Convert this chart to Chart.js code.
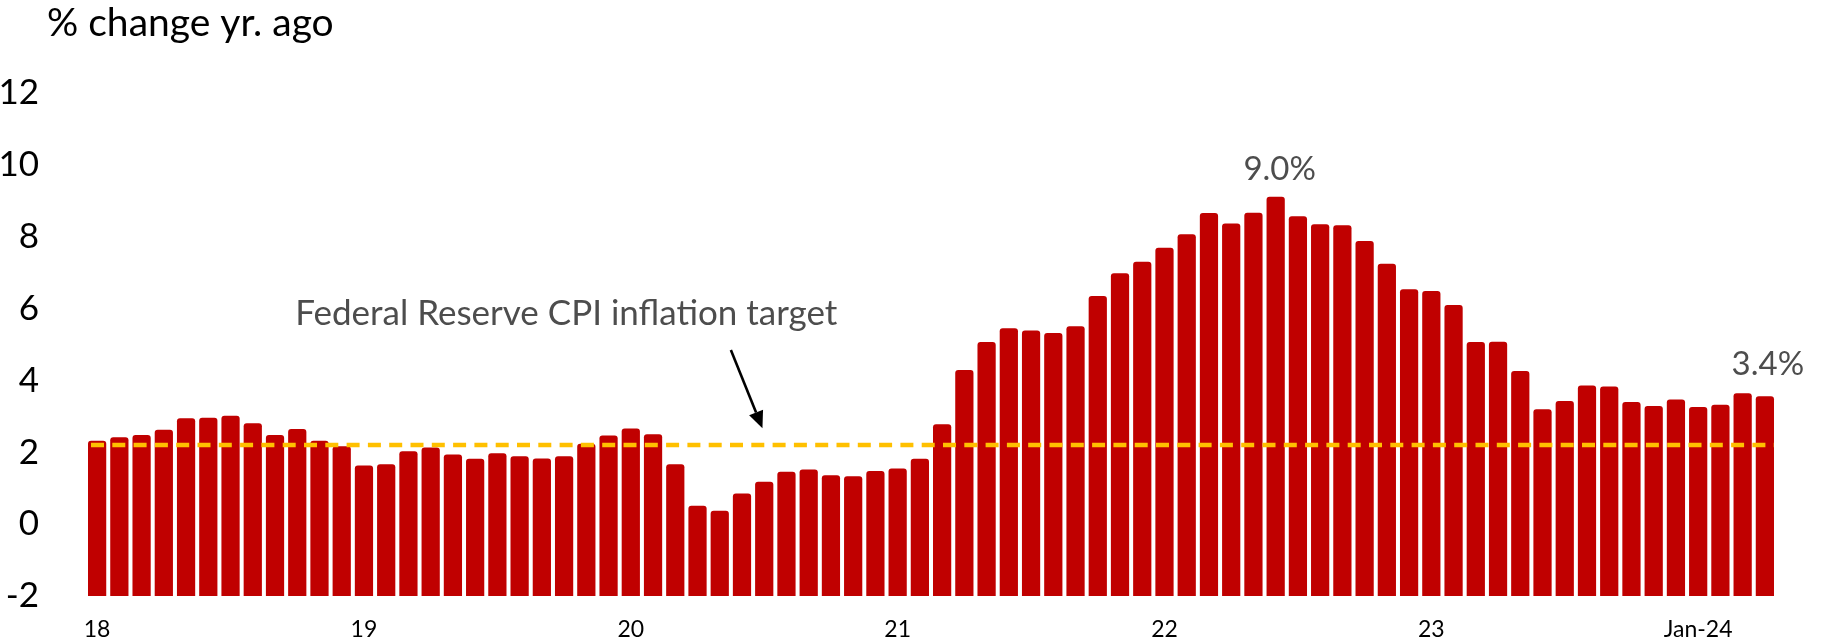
<!DOCTYPE html>
<html>
<head>
<meta charset="utf-8">
<title>CPI % change yr. ago</title>
<script src="https://cdn.jsdelivr.net/npm/chart.js@4.4.1/dist/chart.umd.min.js"></script>
<style>
    html, body { margin: 0; padding: 0; background: #fff; overflow: hidden; }
    #wrap { width: 1825px; height: 641px; }
    canvas { display: block; }
</style>
</head>
<body>
<div id="wrap"><canvas id="canvasCPI" width="1825" height="641"></canvas></div>
<script>
// monthly categories, Jan-18 .. Apr-24
const categories = [
    'Jan-18', 'Feb-18', 'Mar-18', 'Apr-18', 'May-18', 'Jun-18', 'Jul-18', 'Aug-18', 'Sep-18', 'Oct-18', 'Nov-18', 'Dec-18',
    'Jan-19', 'Feb-19', 'Mar-19', 'Apr-19', 'May-19', 'Jun-19', 'Jul-19', 'Aug-19', 'Sep-19', 'Oct-19', 'Nov-19', 'Dec-19',
    'Jan-20', 'Feb-20', 'Mar-20', 'Apr-20', 'May-20', 'Jun-20', 'Jul-20', 'Aug-20', 'Sep-20', 'Oct-20', 'Nov-20', 'Dec-20',
    'Jan-21', 'Feb-21', 'Mar-21', 'Apr-21', 'May-21', 'Jun-21', 'Jul-21', 'Aug-21', 'Sep-21', 'Oct-21', 'Nov-21', 'Dec-21',
    'Jan-22', 'Feb-22', 'Mar-22', 'Apr-22', 'May-22', 'Jun-22', 'Jul-22', 'Aug-22', 'Sep-22', 'Oct-22', 'Nov-22', 'Dec-22',
    'Jan-23', 'Feb-23', 'Mar-23', 'Apr-23', 'May-23', 'Jun-23', 'Jul-23', 'Aug-23', 'Sep-23', 'Oct-23', 'Nov-23', 'Dec-23',
    'Jan-24', 'Feb-24', 'Mar-24', 'Apr-24'
];

// CPI, % change yr. ago
const cpiYoY = [
    2.32, 2.42, 2.48, 2.63, 2.95, 2.96, 3.02, 2.81, 2.48, 2.65, 2.32, 2.17,
    1.63, 1.67, 2.03, 2.13, 1.94, 1.82, 1.97, 1.89, 1.83, 1.89, 2.24, 2.47,
    2.66, 2.50, 1.67, 0.51, 0.37, 0.85, 1.18, 1.46, 1.52, 1.36, 1.33, 1.48,
    1.55, 1.82, 2.78, 4.29, 5.07, 5.45, 5.39, 5.32, 5.51, 6.35, 6.98, 7.30,
    7.69, 8.07, 8.66, 8.37, 8.67, 9.11, 8.57, 8.35, 8.32, 7.88, 7.25, 6.54,
    6.49, 6.10, 5.07, 5.08, 4.26, 3.20, 3.43, 3.86, 3.83, 3.40, 3.29, 3.47,
    3.26, 3.32, 3.64, 3.56
];

const fedTarget = 2.2;

// x tick labels and the category they sit under
const tickIndex = [0, 12, 24, 36, 48, 60, 72];
const tickText = ['18', '19', '20', '21', '22', '23', 'Jan-24'];

const yMin = -2;
const yMax = 12;
const yStep = 2;

const peakLabel = '9.0%';
const lastLabel = '3.4%';

const annotations = {
    id: 'annotations',
    afterDatasetsDraw(chart) {
        const ctx = chart.ctx;
        const x = chart.scales.x;
        const y = chart.scales.y;
        const area = chart.chartArea;
        ctx.save();

        // dashed target line
        const yT = y.getPixelForValue(fedTarget);
        ctx.strokeStyle = '#FFC000';
        ctx.lineWidth = 4.5;
        ctx.setLineDash([13, 8.3]);
        ctx.beginPath();
        ctx.moveTo(area.left + 5, yT);
        ctx.lineTo(area.right - 2, yT);
        ctx.stroke();
        ctx.setLineDash([]);

        // arrow
        const x0 = x.getPixelForValue(28.5), y0 = y.getPixelForValue(4.85);
        const x1 = x.getPixelForValue(29.92), y1 = y.getPixelForValue(2.67);
        const ang = Math.atan2(y1 - y0, x1 - x0);
        const headLen = 17, headW = 7.5;
        const bx = x1 - headLen * Math.cos(ang), by = y1 - headLen * Math.sin(ang);
        ctx.strokeStyle = '#000';
        ctx.fillStyle = '#000';
        ctx.lineWidth = 2.6;
        ctx.beginPath();
        ctx.moveTo(x0, y0);
        ctx.lineTo(bx, by);
        ctx.stroke();
        ctx.beginPath();
        ctx.moveTo(x1, y1);
        ctx.lineTo(bx + headW * Math.sin(ang), by - headW * Math.cos(ang));
        ctx.lineTo(bx - headW * Math.sin(ang), by + headW * Math.cos(ang));
        ctx.closePath();
        ctx.fill();

        // texts
        ctx.textBaseline = 'alphabetic';
        ctx.fillStyle = '#000';
        ctx.textAlign = 'left';
        ctx.font = '39px Lato';
        ctx.fillText('% change yr. ago', 47, 36);

        ctx.fillStyle = '#4D4D4D';
        ctx.textAlign = 'center';
        ctx.font = '35px Lato';
        ctx.fillText('Federal Reserve CPI inflation target', x.getPixelForValue(21.1), y.getPixelForValue(5.55));

        const meta = chart.getDatasetMeta(0);
        const iPeak = cpiYoY.indexOf(Math.max(...cpiYoY));
        const iLast = cpiYoY.length - 1;
        ctx.font = '33px Lato';
        ctx.fillText(peakLabel, meta.data[iPeak].x + 4, meta.data[iPeak].y - 17);
        ctx.fillText(lastLabel, meta.data[iLast].x + 3, meta.data[iLast].y - 21);

        ctx.restore();
    }
};

const data = {
    labels: categories,
    datasets: [
        {
            label: 'CPI',
            data: cpiYoY,
            backgroundColor: '#C00000',
            base: yMin,
            barPercentage: 0.82,
            categoryPercentage: 1.0,
            borderRadius: { topLeft: 3, topRight: 3, bottomLeft: 0, bottomRight: 0 }
        }
    ]
};

const config = {
    type: 'bar',
    data: data,
    options: {
        responsive: false,
        animation: false,
        devicePixelRatio: 1,
        layout: { padding: { top: 93, right: 49, bottom: 0, left: 0 } },
        plugins: {
            legend: { display: false },
            tooltip: { enabled: false }
        },
        scales: {
            x: {
                offset: true,
                grid: { display: false },
                border: { display: false },
                ticks: {
                    autoSkip: false,
                    maxRotation: 0,
                    minRotation: 0,
                    padding: 12,
                    color: '#000',
                    font: { family: 'Lato', size: 23 },
                    callback: function (val, i) {
                        const k = tickIndex.indexOf(i);
                        return k >= 0 ? tickText[k] : '';
                    }
                },
                afterFit: function (s) { s.height = 45; s.paddingLeft = 0; s.paddingRight = 0; }
            },
            y: {
                min: yMin,
                max: yMax,
                grid: { display: false },
                border: { display: false },
                ticks: {
                    stepSize: yStep,
                    padding: 39,
                    color: '#000',
                    font: { family: 'Lato', size: 35 }
                },
                afterFit: function (s) { s.width = 86; s.paddingTop = 0; s.paddingBottom = 0; }
            }
        }
    },
    plugins: [annotations]
};

const chart = new Chart(document.getElementById('canvasCPI'), config);
</script>
</body>
</html>
